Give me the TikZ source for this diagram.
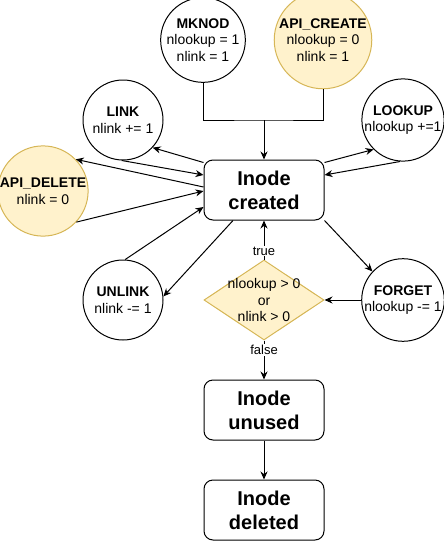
\documentclass[tikz,border=0pt]{standalone}
\usepackage{fontspec}
\setmainfont{Liberation Sans}
\usetikzlibrary{arrows.meta,shapes.geometric,calc}
\definecolor{amarelo}{HTML}{FFF2CC}
\definecolor{borda}{HTML}{D6B656}

\begin{document}
\begin{tikzpicture}[x=1pt, y=-1pt, line width=1pt]

  % ── Estilos ───────────────────────────────────────────────
  \tikzset{
    oper/.style = {draw, circle, minimum size=80pt, inner sep=0pt, align=center,
                   font=\fontsize{14}{16.8}\selectfont},
    operapi/.style = {oper, fill=amarelo, draw=borda},
    estado/.style = {draw, rounded corners=9pt, minimum width=120pt, minimum height=60pt,
                     align=center, font=\fontsize{20}{24}\selectfont\bfseries},
    decisao/.style = {diamond, draw=borda, fill=amarelo, minimum width=120pt,
                      minimum height=80pt, inner sep=0pt},
    seta/.style = {-{Stealth[length=8pt, width=7pt]}},
    rotulo/.style = {fill=white, inner sep=1pt, font=\fontsize{13}{15}\selectfont}
  }

  \useasboundingbox (0,0) rectangle (444,541);

  % =========================================================
  % 1. OPERACOES (circulos)
  % =========================================================
  \node[oper]    (mknod)     at (203,40)  {\textbf{MKNOD}\\nlookup = 1\\nlink = 1};
  \node[operapi] (apicreate) at (323,40)  {\textbf{API\_CREATE}\\nlookup = 0\\nlink = 1};
  \node[oper]    (link)      at (123,120) {\textbf{LINK}\\nlink += 1};
  \node[oper]    (lookup)    at (403,120) {\textbf{LOOKUP}\\nlookup +=1};
  \node[operapi] (apidelete) at (43,191)  {\textbf{API\_DELETE}\\nlink = 0};
  \node[oper]    (unlink)    at (123,300) {\textbf{UNLINK}\\nlink -= 1};
  \node[oper]    (forget)    at (403,300) {\textbf{FORGET}\\nlookup -= 1};

  % =========================================================
  % 2. ESTADOS DO INODE
  % =========================================================
  \node[estado] (created) at (264,190) {Inode\\created};
  \node[decisao] (teste) at (264,300) {};
  \node[align=center, font=\fontsize{14}{16.8}\selectfont] (testetxt) at (teste)
    {nlookup > 0\\or\\nlink > 0};
  \node[estado] (unused)  at (264,410) {Inode\\unused};
  \node[estado] (deleted) at (264,510) {Inode\\deleted};

  % =========================================================
  % 3. TRANSICOES
  % =========================================================
  % Criacao (as duas entradas se juntam)
  \coordinate (juncao) at (264,120);
  \draw (mknod.south) |- (juncao) -| (apicreate.south);
  \draw[seta] (juncao) -- (created.north);

  % Lado esquerdo
  \draw[seta] ($(created.north west)+(0,3)$) -- (link.-43);
  \draw[seta] (link.-92) -- ($(created.west)+(0,-15)$);
  \draw[seta] ($(created.west)+(0,-3)$) -- (apidelete.44);
  \draw[seta] (apidelete.-43) -- ($(created.west)+(0,1)$);
  \draw[seta] (unlink.87) -- ($(created.west)+(0,17)$);
  \draw[seta] ($(created.south)+(-31,0)$) -- (unlink.5);

  % Lado direito
  \draw[seta] ($(created.north east)+(0,3)$) -- (lookup.-135);
  \draw[seta] (lookup.-94) -- ($(created.east)+(0,-15)$);
  \draw[seta] (created.south east) -- (forget.137);
  \draw[seta] (forget.west) -- (teste.east);

  % Teste e remocao
  \draw[seta] (teste.north) -- node[rotulo, pos=0.22] (verdadeiro) {true} (created.south);
  \draw[seta] (teste.south) -- node[rotulo, pos=0.25] (falso) {false} (unused.north);
  \draw[seta] (unused.south) -- (deleted.north);

\end{tikzpicture}
\end{document}
